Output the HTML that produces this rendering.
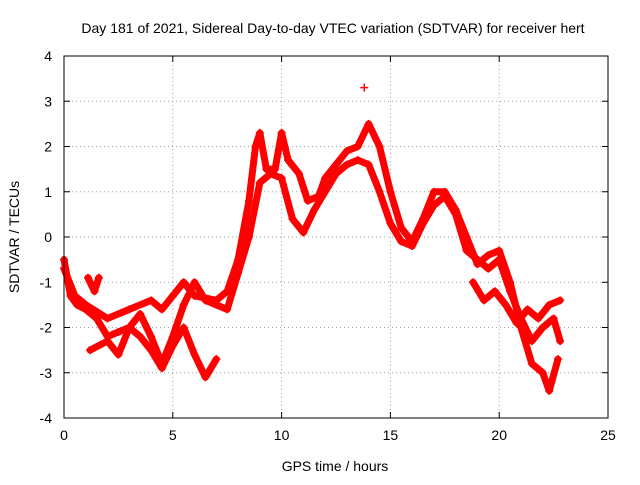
<!DOCTYPE html>
<html><head><meta charset="utf-8"><style>
body{margin:0;background:#fff;}
svg text{font-family:"Liberation Sans",sans-serif;font-size:14px;fill:#000;}
</style></head><body>
<svg id="chart" width="640" height="480" viewBox="0 0 640 480" xmlns="http://www.w3.org/2000/svg">
<rect width="640" height="480" fill="#fff"/>
<text x="333" y="33" text-anchor="middle">Day 181 of 2021, Sidereal Day-to-day VTEC variation (SDTVAR) for receiver hert</text>
<text x="335" y="471" text-anchor="middle">GPS time / hours</text>
<text transform="translate(19,237) rotate(-90)" text-anchor="middle">SDTVAR / TECUs</text>
<g id="grid"></g><g id="ticks"></g><g id="marks"></g>
<rect x="64" y="56" width="544" height="362" fill="none" stroke="#000" stroke-width="1"/>
</svg>
<script>
const xTicks=[0,5,10,15,20,25];
const yTicks=[-4,-3,-2,-1,0,1,2,3,4];
const trackMainX=[0,0.3,0.6,1,1.5,2,2.5,3,3.5,4,4.5,5,5.5,6,6.5,7,7.5,8,8.5,9,9.5,10,10.5,11,11.5,12,12.5,13,13.5,14,14.5,15,15.5,16,16.5,17,17.5,18,18.5,19,19.5,20,20.5,21,21.5,22,22.5,22.8];
const trackMainY=[-0.5,-1.3,-1.5,-1.6,-1.8,-2.2,-2.1,-2.0,-1.7,-2.2,-2.8,-2.2,-1.5,-1.0,-1.4,-1.5,-1.6,-0.8,0.0,1.2,1.4,1.3,0.4,0.1,0.6,1.0,1.4,1.6,1.7,1.6,1.0,0.3,-0.1,-0.2,0.3,0.7,0.9,0.5,-0.3,-0.5,-0.7,-0.5,-1.2,-1.8,-2.3,-2.0,-1.8,-2.3];
const trackUpperX=[0,0.5,1,2,3,4,4.5,5,5.5,6,7,7.5,8,8.5,8.8,9,9.3,9.7,10,10.3,10.8,11.2,11.7,12,12.5,13,13.5,14,14.5,15,15.5,16,16.5,17,17.5,18,18.5,19,19.5,20,20.5,21,21.5,22,22.3,22.7];
const trackUpperY=[-0.7,-1.3,-1.5,-1.8,-1.6,-1.4,-1.6,-1.3,-1.0,-1.3,-1.4,-1.2,-0.5,0.8,2.0,2.3,1.5,1.5,2.3,1.7,1.4,0.8,0.9,1.3,1.6,1.9,2.0,2.5,2.0,1.0,0.2,-0.1,0.4,1.0,1.0,0.6,0.0,-0.6,-0.4,-0.3,-1.0,-2.0,-2.8,-3.0,-3.4,-2.7];
const trackLowerX=[1.2,2,2.5,3,3.5,4,4.5,5,5.5,6,6.5,7];
const trackLowerY=[-2.5,-2.3,-2.6,-2.0,-2.2,-2.5,-2.9,-2.4,-2.0,-2.6,-3.1,-2.7];
const trackLateX=[18.8,19.3,19.8,20.3,20.8,21.3,21.8,22.3,22.8];
const trackLateY=[-1.0,-1.4,-1.2,-1.5,-1.9,-1.6,-1.8,-1.5,-1.4];
const trackShortX=[1.1,1.4,1.6];
const trackShortY=[-0.9,-1.2,-0.9];
const outlierX=[13.8];
const outlierY=[3.3];
const X0=64,X1=608,Y0=418,Y1=56;
const xs=v=>X0+(v/25)*(X1-X0);
const ys=v=>Y0-((v+4)/8)*(Y0-Y1);
const NS="http://www.w3.org/2000/svg";
const grid=document.getElementById('grid'),ticks=document.getElementById('ticks'),marks=document.getElementById('marks');
function mk(tag,attrs,parent){const e=document.createElementNS(NS,tag);for(const k in attrs)e.setAttribute(k,attrs[k]);parent.appendChild(e);return e;}
xTicks.forEach(t=>{const x=xs(t);
 if(t>0&&t<25){const g=mk('line',{x1:x,x2:x,y1:Y0,y2:Y1,stroke:'#a0a0a0','stroke-dasharray':'1,3'},grid);
 
 }
 mk('line',{x1:x,x2:x,y1:Y0,y2:Y0-6,stroke:'#000'},ticks);mk('line',{x1:x,x2:x,y1:Y1,y2:Y1+6,stroke:'#000'},ticks);
 const tx=mk('text',{x:x,y:Y0+22,'text-anchor':'middle'},ticks);tx.textContent=t;
 
 });
yTicks.forEach(t=>{const y=ys(t);
 if(t>-4&&t<4){const g=mk('line',{x1:X0,x2:X1,y1:y,y2:y,stroke:'#a0a0a0','stroke-dasharray':'1,3'},grid);
 
 }
 mk('line',{x1:X0,x2:X0+6,y1:y,y2:y,stroke:'#000'},ticks);mk('line',{x1:X1,x2:X1-6,y1:y,y2:y,stroke:'#000'},ticks);
 const tx=mk('text',{x:X0-12,y:y+5,'text-anchor':'end'},ticks);tx.textContent=t;
 
 });
function track(X,Y,name){
 const pts=X.map((v,i)=>xs(v)+','+ys(Y[i])).join(' ');
 if(X.length>1){const pl=mk('polyline',{points:pts,fill:'none',stroke:'#ff0000','stroke-width':7,'stroke-linejoin':'round','stroke-linecap':'round'},marks);
 
 }
 X.forEach((v,i)=>{const x=xs(v),y=ys(Y[i]);
  const p=mk('path',{d:`M${x-4},${y}h8M${x},${y-4}v8`,stroke:'#ff0000','stroke-width':1.5},marks);
  
  });
}
track(trackMainX,trackMainY,'series-main-track');
track(trackUpperX,trackUpperY,'series-upper-track');
track(trackLowerX,trackLowerY,'series-lower-track');
track(trackLateX,trackLateY,'series-late-track');
track(trackShortX,trackShortY,'series-short-track');
track(outlierX,outlierY,'series-outlier');
</script>
</body></html>
